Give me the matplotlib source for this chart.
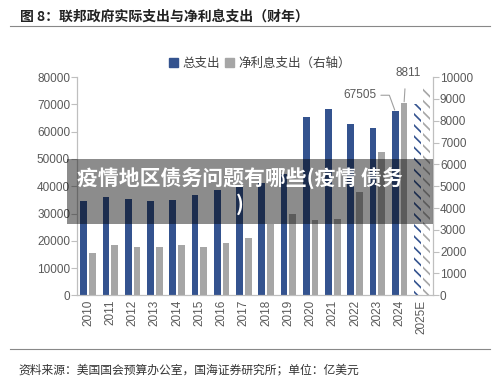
import numpy as np
import matplotlib
matplotlib.use('Agg')  # No DISPLAY
import matplotlib.pyplot as plt
from matplotlib.patches import Rectangle

plt.rcParams['font.family'] = ['Liberation Sans', 'Noto Sans CJK SC']
plt.rcParams['hatch.linewidth'] = 1.2

years = ["2010", "2011", "2012", "2013", "2014", "2015", "2016", "2017",
         "2018", "2019", "2020", "2021", "2022", "2023", "2024", "2025E"]
# 总支出 (left axis, 亿美元)
outlays = [34570, 36030, 35370, 34550, 35060, 36880, 38530, 39820,
           41090, 44470, 65530, 68220, 62730, 61350, 67505, 70300]
# 净利息支出 (right axis, 亿美元)
net_interest = [1960, 2300, 2200, 2210, 2290, 2230, 2400, 2630,
                3250, 3750, 3450, 3520, 4750, 6580, 8811, 9520]

BLUE = '#34538f'
GRAY = '#a6a6a6'
AXIS = '#bfbfbf'
TXT = '#595959'
CJK = ['Noto Sans CJK SC', 'DejaVu Sans']

fig = plt.figure(figsize=(5, 3.84), dpi=100)
ax1 = fig.add_axes([0.154, 0.231, 0.712, 0.568])
ax2 = ax1.twinx()

x = np.arange(len(years))
w = 0.3
n = len(years) - 1  # last one is the estimate

ax1.bar(x[:n] - 0.2, outlays[:n], w, color=BLUE, zorder=2)
ax1.bar(x[n] - 0.2, outlays[n], w, color='white', edgecolor=BLUE,
        hatch='\\\\\\', linewidth=0, zorder=2)
ax2.bar(x[:n] + 0.2, net_interest[:n], w, color=GRAY, zorder=2)
ax2.bar(x[n] + 0.2, net_interest[n], w, color='white', edgecolor=GRAY,
        hatch='\\\\\\', linewidth=0, zorder=2)

ax1.set_xlim(-0.5, len(years) - 0.5)
ax1.set_ylim(0, 80000)
ax2.set_ylim(0, 10000)
ax1.set_yticks(np.arange(0, 80001, 10000))
ax2.set_yticks(np.arange(0, 10001, 1000))
ax1.set_xticks(x)
ax1.set_xticklabels(years, rotation=90)

for ax in (ax1, ax2):
    ax.spines['top'].set_visible(False)
    for s in ('left', 'right', 'bottom'):
        ax.spines[s].set_color(AXIS)
        ax.spines[s].set_linewidth(0.8)
    ax.tick_params(axis='y', colors=TXT, labelsize=8.5, length=4,
                   width=0.8, pad=1)
    ax.tick_params(axis='y', color=AXIS)
ax1.tick_params(axis='x', colors=TXT, labelsize=8.5, length=0, pad=3)

# labels on 2024
ax1.annotate("67505", xy=(x[n - 1] - 0.2, outlays[n - 1]),
             xytext=(-35, 16), textcoords='offset pixels',
             ha='center', va='center', fontsize=8.5, color=TXT,
             arrowprops=dict(arrowstyle='-', color='#a0a0a0', lw=0.8,
                             shrinkA=1, shrinkB=1, relpos=(1, 0.5),
                             connectionstyle='angle,angleA=0,angleB=110,rad=0'))
ax2.annotate("8811", xy=(x[n - 1] + 0.2, net_interest[n - 1]),
             xytext=(4, 30), textcoords='offset pixels',
             ha='center', va='center', fontsize=8.5, color=TXT,
             arrowprops=dict(arrowstyle='-', color='#a0a0a0', lw=0.8,
                             shrinkA=5, shrinkB=1, relpos=(0.4, 0)))

# legend
h1 = Rectangle((0, 0), 1, 1, color=BLUE)
h2 = Rectangle((0, 0), 1, 1, color=GRAY)
fig.legend([h1, h2], ["总支出", "净利息支出（右轴）"], loc='center',
           bbox_to_anchor=(0.52, 0.835), ncol=2, frameon=False,
           prop={'family': CJK, 'size': 9}, handlelength=0.7,
           handleheight=0.7, handletextpad=0.4, columnspacing=0.4,
           labelcolor='#404040')

# title and source
fig.text(0.04, 0.958, "图 8：联邦政府实际支出与净利息支出（财年）",
         family=CJK, fontsize=10, fontweight='bold', color='#222222',
         va='center', ha='left')
fig.add_artist(plt.Line2D([0.02, 0.98], [0.931, 0.931], color='#888888',
                          lw=0.8))
fig.add_artist(plt.Line2D([0.02, 0.98], [0.091, 0.091], color='#888888',
                          lw=0.8))
fig.text(0.036, 0.036, "资料来源：美国国会预算办公室，国海证券研究所；单位：亿美元",
         family=CJK, fontsize=8.5, color='#333333', va='center', ha='left')

# watermark overlay
fig.add_artist(Rectangle((0.134, 0.417), 0.732, 0.169,
                         transform=fig.transFigure, facecolor='black',
                         alpha=0.45, edgecolor='none', zorder=5))
fig.text(0.48, 0.503, "疫情地区债务问题有哪些(疫情 债务\n)",
         family=CJK, fontsize=15, fontweight='bold', color='white',
         ha='center', va='center', linespacing=1.3, zorder=6)

fig.savefig("out.png", dpi=100)
